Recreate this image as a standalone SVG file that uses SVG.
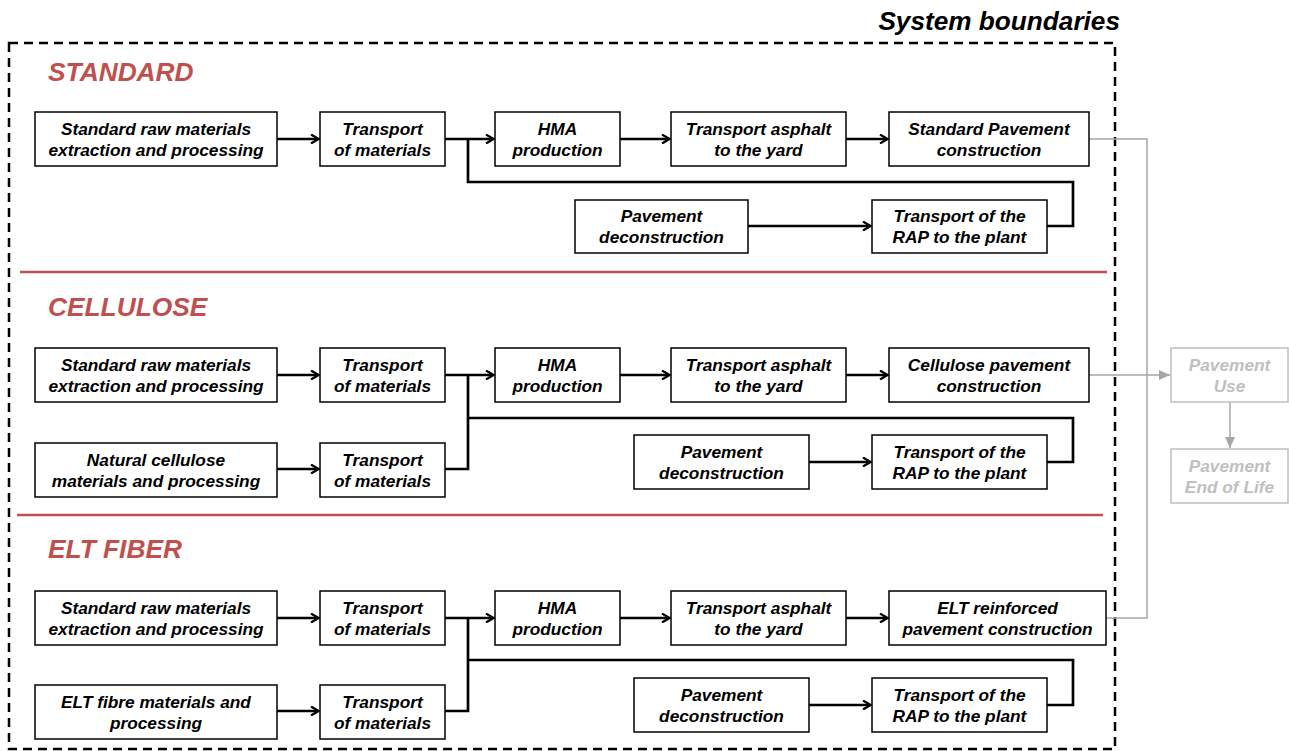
<svg xmlns="http://www.w3.org/2000/svg" width="1289" height="751" viewBox="0 0 1289 751">
<defs>
<marker id="ah" markerWidth="10" markerHeight="10" refX="8" refY="5" orient="auto" markerUnits="userSpaceOnUse">
<path d="M1,0.5 L8.5,5 L1,9.5" fill="none" stroke="#000" stroke-width="2.2"/>
</marker>
<marker id="ahg" markerWidth="12" markerHeight="12" refX="11" refY="6" orient="auto" markerUnits="userSpaceOnUse">
<path d="M0,1 L11,6 L0,11 Z" fill="#a6a6a6"/>
</marker>
</defs>
<style>
.box{fill:#fff;stroke:#000;stroke-width:1.5}
.gbox{fill:#fff;stroke:#bfbfbf;stroke-width:1.5}
.t{font-family:"Liberation Sans",Arial,sans-serif;font-weight:bold;font-style:italic;font-size:17.3px;text-anchor:middle;fill:#000}
.gt{font-family:"Liberation Sans",Arial,sans-serif;font-weight:bold;font-style:italic;font-size:17.3px;text-anchor:middle;fill:#bfbfbf}
.sec{font-family:"Liberation Sans",Arial,sans-serif;font-weight:bold;font-style:italic;font-size:26.3px;fill:#c0504d}
.ln{fill:none;stroke:#000;stroke-width:2.7}
.ar{fill:none;stroke:#000;stroke-width:2.7;marker-end:url(#ah)}
.gl{fill:none;stroke:#a6a6a6;stroke-width:1.5}
.red{stroke:#c0504d;stroke-width:2.5}
</style>
<rect x="9" y="43" width="1106" height="706" fill="none" stroke="#000" stroke-width="2.5" stroke-dasharray="9,6"/>
<text x="1120" y="30" font-family="Liberation Sans,Arial,sans-serif" font-weight="bold" font-style="italic" font-size="26.2" text-anchor="end">System boundaries</text>
<line class="red" x1="20" y1="272" x2="1107" y2="272"/>
<line class="red" x1="17" y1="515" x2="1103" y2="515"/>
<text class="sec" x="48" y="81">STANDARD</text>
<text class="sec" x="48" y="316">CELLULOSE</text>
<text class="sec" x="48" y="558">ELT FIBER</text>

<g id="connectors">
<path class="ar" d="M277,139 H318"/>
<path class="ar" d="M445,139 H493"/>
<path class="ar" d="M620,139 H669"/>
<path class="ar" d="M846,139 H887"/>
<path class="ln" d="M468,139 V182 H1073 V226 H1047"/>
<path class="ar" d="M748,226 H870"/>

<path class="ar" d="M277,375 H318"/>
<path class="ar" d="M445,375 H493"/>
<path class="ar" d="M620,375 H669"/>
<path class="ar" d="M846,375 H887"/>
<path class="ar" d="M277,469 H318"/>
<path class="ln" d="M445,469 H468 V375"/>
<path class="ln" d="M468,418 H1073 V462 H1047"/>
<path class="ar" d="M809,462 H870"/>

<path class="ar" d="M277,618 H318"/>
<path class="ar" d="M445,618 H493"/>
<path class="ar" d="M620,618 H669"/>
<path class="ar" d="M846,618 H887"/>
<path class="ar" d="M277,711 H318"/>
<path class="ln" d="M445,711 H468 V618"/>
<path class="ln" d="M468,660 H1073 V705 H1047"/>
<path class="ar" d="M809,705 H870"/>

<path class="gl" d="M1089,139 H1147 V618 H1106"/>
<path class="gl" d="M1089,375 H1170" marker-end="url(#ahg)"/>
<path class="gl" d="M1230,401 V448" marker-end="url(#ahg)"/>
</g>

<g id="s1-raw"><rect class="box" x="35" y="112" width="242" height="54"/><text class="t" x="156" y="135">Standard raw materials</text><text class="t" x="156" y="156">extraction and processing</text></g>
<g id="s1-trans"><rect class="box" x="320" y="112" width="125" height="54"/><text class="t" x="382.5" y="135">Transport</text><text class="t" x="382.5" y="156">of materials</text></g>
<g id="s1-hma"><rect class="box" x="495" y="112" width="125" height="54"/><text class="t" x="557.5" y="135">HMA</text><text class="t" x="557.5" y="156">production</text></g>
<g id="s1-ta"><rect class="box" x="671" y="112" width="175" height="54"/><text class="t" x="758.5" y="135">Transport asphalt</text><text class="t" x="758.5" y="156">to the yard</text></g>
<g id="s1-con"><rect class="box" x="889" y="112" width="200" height="54"/><text class="t" x="989" y="135">Standard Pavement</text><text class="t" x="989" y="156">construction</text></g>
<g id="s1-pd"><rect class="box" x="575" y="200" width="173" height="53"/><text class="t" x="661.5" y="222">Pavement</text><text class="t" x="661.5" y="243">deconstruction</text></g>
<g id="s1-rap"><rect class="box" x="872" y="200" width="175" height="53"/><text class="t" x="959.5" y="222">Transport of the</text><text class="t" x="959.5" y="243">RAP to the plant</text></g>

<g id="s2-raw"><rect class="box" x="35" y="348" width="242" height="54"/><text class="t" x="156" y="371">Standard raw materials</text><text class="t" x="156" y="392">extraction and processing</text></g>
<g id="s2-trans"><rect class="box" x="320" y="348" width="125" height="54"/><text class="t" x="382.5" y="371">Transport</text><text class="t" x="382.5" y="392">of materials</text></g>
<g id="s2-hma"><rect class="box" x="495" y="348" width="125" height="54"/><text class="t" x="557.5" y="371">HMA</text><text class="t" x="557.5" y="392">production</text></g>
<g id="s2-ta"><rect class="box" x="671" y="348" width="175" height="54"/><text class="t" x="758.5" y="371">Transport asphalt</text><text class="t" x="758.5" y="392">to the yard</text></g>
<g id="s2-con"><rect class="box" x="889" y="348" width="200" height="54"/><text class="t" x="989" y="371">Cellulose pavement</text><text class="t" x="989" y="392">construction</text></g>
<g id="s2-nat"><rect class="box" x="35" y="443" width="242" height="54"/><text class="t" x="156" y="466">Natural cellulose</text><text class="t" x="156" y="487">materials and processing</text></g>
<g id="s2-trans2"><rect class="box" x="320" y="443" width="125" height="54"/><text class="t" x="382.5" y="466">Transport</text><text class="t" x="382.5" y="487">of materials</text></g>
<g id="s2-pd"><rect class="box" x="634" y="435" width="175" height="54"/><text class="t" x="721.5" y="458">Pavement</text><text class="t" x="721.5" y="479">deconstruction</text></g>
<g id="s2-rap"><rect class="box" x="872" y="435" width="175" height="54"/><text class="t" x="959.5" y="458">Transport of the</text><text class="t" x="959.5" y="479">RAP to the plant</text></g>

<g id="s3-raw"><rect class="box" x="35" y="591" width="242" height="54"/><text class="t" x="156" y="614">Standard raw materials</text><text class="t" x="156" y="635">extraction and processing</text></g>
<g id="s3-trans"><rect class="box" x="320" y="591" width="125" height="54"/><text class="t" x="382.5" y="614">Transport</text><text class="t" x="382.5" y="635">of materials</text></g>
<g id="s3-hma"><rect class="box" x="495" y="591" width="125" height="54"/><text class="t" x="557.5" y="614">HMA</text><text class="t" x="557.5" y="635">production</text></g>
<g id="s3-ta"><rect class="box" x="671" y="591" width="175" height="54"/><text class="t" x="758.5" y="614">Transport asphalt</text><text class="t" x="758.5" y="635">to the yard</text></g>
<g id="s3-con"><rect class="box" x="889" y="591" width="217" height="54"/><text class="t" x="997.5" y="614">ELT reinforced</text><text class="t" x="997.5" y="635">pavement construction</text></g>
<g id="s3-elt"><rect class="box" x="35" y="685" width="242" height="54"/><text class="t" x="156" y="708">ELT fibre materials and</text><text class="t" x="156" y="729">processing</text></g>
<g id="s3-trans2"><rect class="box" x="320" y="685" width="125" height="54"/><text class="t" x="382.5" y="708">Transport</text><text class="t" x="382.5" y="729">of materials</text></g>
<g id="s3-pd"><rect class="box" x="634" y="678" width="175" height="54"/><text class="t" x="721.5" y="701">Pavement</text><text class="t" x="721.5" y="722">deconstruction</text></g>
<g id="s3-rap"><rect class="box" x="872" y="678" width="175" height="54"/><text class="t" x="959.5" y="701">Transport of the</text><text class="t" x="959.5" y="722">RAP to the plant</text></g>

<g id="use"><rect class="gbox" x="1171" y="348" width="117" height="54"/><text class="gt" x="1229.5" y="371">Pavement</text><text class="gt" x="1229.5" y="392">Use</text></g>
<g id="eol"><rect class="gbox" x="1171" y="449" width="117" height="54"/><text class="gt" x="1229.5" y="472">Pavement</text><text class="gt" x="1229.5" y="493">End of Life</text></g>
</svg>
